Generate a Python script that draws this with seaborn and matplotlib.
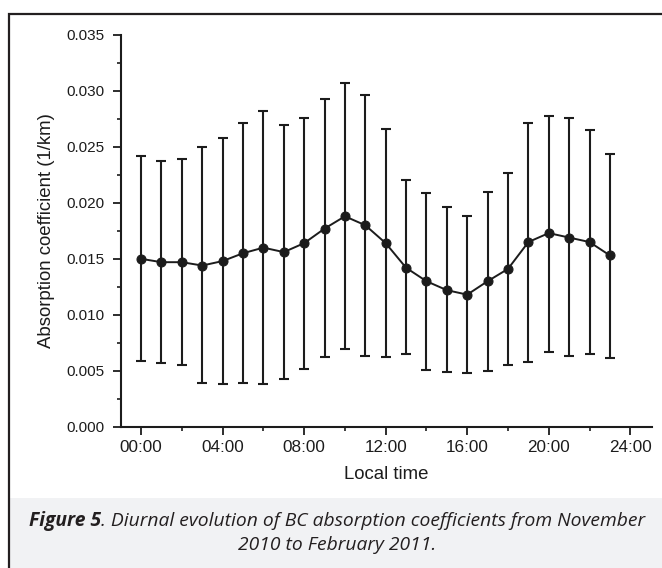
import matplotlib
matplotlib.use("Agg")
import matplotlib.pyplot as plt
from matplotlib.patches import Rectangle
from matplotlib.ticker import MultipleLocator, FuncFormatter
import pandas as pd
import seaborn as sns

# hourly mean BC absorption coefficient (1/km) with lower / upper error bar ends
hours = list(range(24))
mean_abs = [0.0150, 0.0147, 0.0147, 0.0144, 0.0148, 0.0155, 0.0160, 0.0156,
            0.0164, 0.0177, 0.0188, 0.0180, 0.0164, 0.0142, 0.0130, 0.0122,
            0.0118, 0.0130, 0.0141, 0.0165, 0.0173, 0.0169, 0.0165, 0.0153]
upper_abs = [0.0242, 0.0237, 0.0239, 0.0250, 0.0258, 0.0271, 0.0282, 0.0270,
             0.0276, 0.0293, 0.0307, 0.0296, 0.0266, 0.0220, 0.0209, 0.0196,
             0.0188, 0.0210, 0.0227, 0.0271, 0.0278, 0.0276, 0.0265, 0.0244]
lower_abs = [0.0059, 0.0057, 0.0055, 0.0039, 0.0038, 0.0039, 0.0038, 0.0043,
             0.0052, 0.0062, 0.0069, 0.0063, 0.0062, 0.0065, 0.0051, 0.0049,
             0.0048, 0.0050, 0.0055, 0.0058, 0.0067, 0.0063, 0.0065, 0.0061]
xtick_pos = [0, 4, 8, 12, 16, 20, 24]
xtick_labels = ["00:00", "04:00", "08:00", "12:00", "16:00", "20:00", "24:00"]

df = pd.DataFrame({"hour": hours, "mean": mean_abs,
                   "lower": lower_abs, "upper": upper_abs})

sns.set_style("ticks")
plt.rcParams["font.family"] = ["Liberation Sans", "DejaVu Sans"]
ink = "#1c1c1c"

W, H = 662, 568
fig = plt.figure(figsize=(W / 100, H / 100), dpi=100)
fig.patch.set_facecolor("white")

# caption box and outer frame
fig.add_artist(Rectangle((9.5 / W, 0), 1, (H - 498) / H, transform=fig.transFigure,
                         facecolor="#f1f2f4", edgecolor="none", zorder=0))
fig.add_artist(Rectangle((8.5 / W, -0.1), 1.1, 1.1 - 13.7 / H, transform=fig.transFigure,
                         fill=False, edgecolor="#231f20", lw=1.6, clip_on=False, zorder=1))

ax = fig.add_axes([120.7 / W, (H - 426.7) / H, 531 / W, 391.7 / H])
ax.set_facecolor("none")

ax.errorbar(df["hour"], df["mean"],
            yerr=[df["mean"] - df["lower"], df["upper"] - df["mean"]],
            fmt="none", ecolor=ink, elinewidth=1.5, capsize=3.4, capthick=1.5, zorder=2)
sns.lineplot(data=df, x="hour", y="mean", ax=ax, color=ink, lw=1.4,
             marker="o", markersize=6.5, markeredgecolor=ink, zorder=3)

ax.set_xlim(-1, 25.05)
ax.set_ylim(0, 0.035)
ax.set_xticks(xtick_pos)
ax.set_xticklabels(xtick_labels)
ax.xaxis.set_minor_locator(MultipleLocator(2))
ax.yaxis.set_major_locator(MultipleLocator(0.005))
ax.yaxis.set_minor_locator(MultipleLocator(0.0025))
ax.yaxis.set_major_formatter(FuncFormatter(lambda v, p: f"{v:.3f}"))
sns.despine(ax=ax)
for s in ("left", "bottom"):
    ax.spines[s].set_linewidth(1.5)
    ax.spines[s].set_color(ink)
ax.tick_params(axis="both", which="major", length=5.5, width=1.3, color=ink)
ax.tick_params(axis="both", which="minor", length=3, width=1.2, color=ink)
ax.tick_params(axis="y", which="major", labelsize=11, pad=6, labelcolor=ink)
ax.tick_params(axis="x", which="major", labelsize=12.3, pad=4, labelcolor=ink)
ax.set_xlabel("Local time", fontsize=13.4, labelpad=8, color=ink)
ax.set_ylabel("Absorption coefficient (1/km)", fontsize=13.4, labelpad=8, color=ink)

# caption: bold "Figure 5" followed by italic text, centred
cap_font = ["Open Sans", "DejaVu Sans"]
cap_color = "#231f20"
t_bold = fig.text(0, 1 - 521 / H, "Figure 5", family=cap_font, style="italic",
                  weight="bold", fontsize=12, va="center", color=cap_color)
t_rest = fig.text(0, 1 - 521 / H,
                  ". Diurnal evolution of BC absorption coefficients from November",
                  family=cap_font, style="italic", fontsize=12, va="center", color=cap_color)
t_line2 = fig.text(0, 1 - 545 / H, "2010 to February 2011.", family=cap_font,
                   style="italic", fontsize=12, va="center", color=cap_color)
r = fig.canvas.get_renderer()
w_total = t_bold.get_window_extent(r).width + t_rest.get_window_extent(r).width
size = 12 * 615 / w_total
for t in (t_bold, t_rest, t_line2):
    t.set_fontsize(size)
w1 = t_bold.get_window_extent(r).width
w2 = t_rest.get_window_extent(r).width
w3 = t_line2.get_window_extent(r).width
cx = 337
x0 = cx - (w1 + w2) / 2
t_bold.set_x(x0 / W)
t_rest.set_x((x0 + w1) / W)
t_line2.set_x((cx - w3 / 2) / W)

fig.savefig("out.png", dpi=100)
